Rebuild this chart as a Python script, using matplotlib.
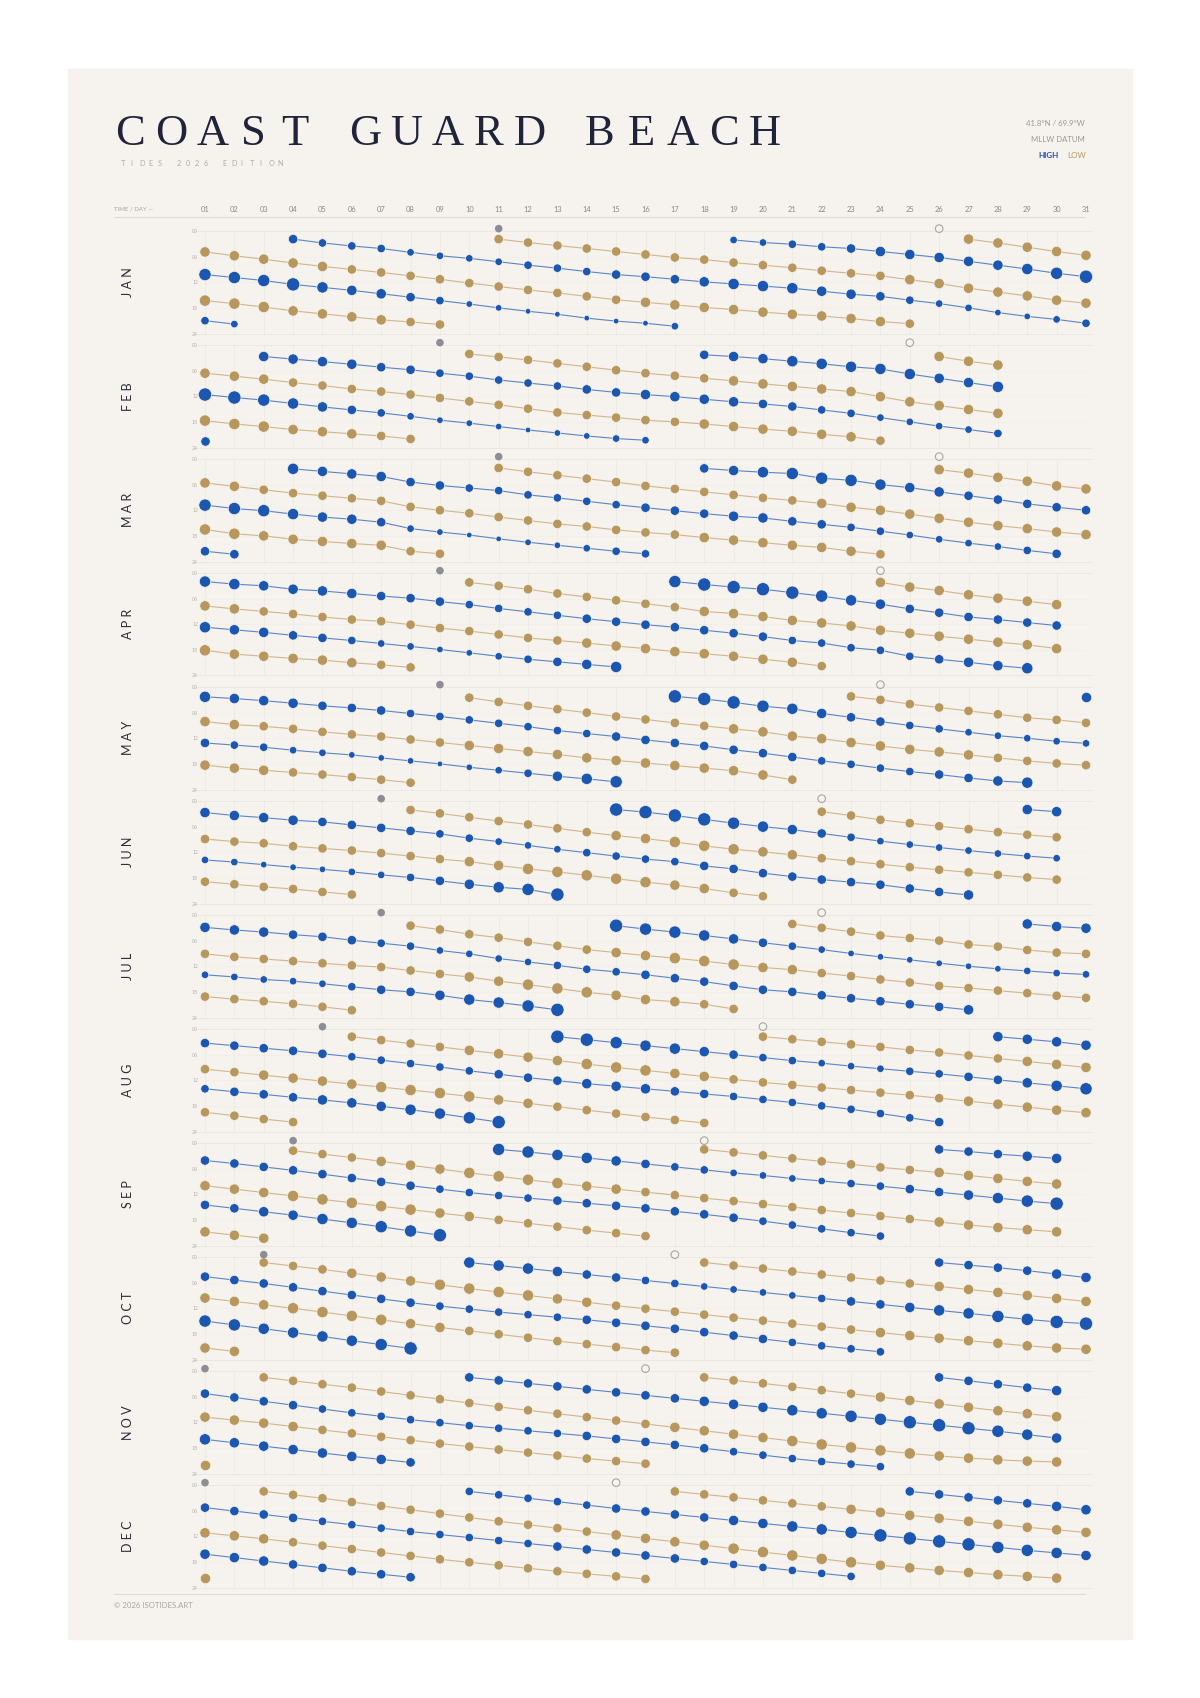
import matplotlib
matplotlib.use("Agg")
import matplotlib.pyplot as plt
from matplotlib.patches import Rectangle

# ── palette ──────────────────────────────────────────────
PAPER = "#f6f2ee"
BLUE = "#1b57b1"
GOLD = "#b8975c"
BLUE_LINE = "#5c84c6"
GOLD_LINE = "#cfb68c"
GRID = "#ece6df"
INK = "#20243a"
SANS = ["Lato", "DejaVu Sans"]

# ── data: (kind, first day, tide times in hours, size class per day 1-9) ──
MONTHS = ["JAN", "FEB", "MAR", "APR", "MAY", "JUN",
          "JUL", "AUG", "SEP", "OCT", "NOV", "DEC"]
DAYS_IN_MONTH = [31, 28, 31, 30, 31, 30, 31, 31, 30, 31, 30, 31]
NEW_MOON = [11, 9, 11, 9, 9, 7, 7, 5, 4, 3, 1, 1]
FULL_MOON = [26, 25, 26, 24, 24, 22, 22, 20, 18, 17, 16, 15]

JAN = [
    ("H", 1, [10.2, 10.9, 11.6, 12.5, 13.2, 13.9, 14.7, 15.5, 16.3, 17.1, 18.0, 18.8,
              19.5, 20.4, 21.1, 21.6, 22.3], "88897665422111113"),
    ("H", 1, [21.0, 21.8], "43"),
    ("H", 4, [1.9, 2.8, 3.5, 4.1, 5.0, 5.8, 6.4, 7.2, 8.0, 8.7, 9.5, 10.2, 10.7, 11.3,
              11.9, 12.4, 12.9, 13.4, 14.1, 14.8, 15.3, 16.2, 17.0, 18.0, 19.1, 20.0,
              20.7, 21.6], "5444333344455567776654332234"),
    ("H", 19, [2.1, 2.7, 3.1, 3.7, 4.1, 4.8, 5.5, 6.2, 7.1, 8.0, 8.9, 9.9, 10.7],
     "3344566666789"),
    ("L", 1, [4.9, 5.8, 6.6, 7.5, 8.3, 9.0, 9.7, 10.5, 11.3, 12.2, 13.0, 13.8, 14.5,
              15.3, 16.1, 16.7, 17.3, 17.9, 18.4, 19.0, 19.5, 19.9, 20.5, 21.2, 21.7],
     "6666655555555556666666665"),
    ("L", 1, [16.3, 17.0, 17.8, 18.7, 19.4, 20.1, 20.8, 21.3, 21.9], "777666655"),
    ("L", 11, [1.9, 2.7, 3.4, 4.1, 4.8, 5.5, 6.2, 6.7, 7.4, 8.0, 8.6, 9.3, 9.9, 10.5,
               11.4, 12.3, 13.4, 14.3, 15.2, 16.2, 16.9], "555555555555556666666"),
    ("L", 27, [1.9, 2.8, 3.8, 4.8, 5.7], "66666"),
]

FEB = [
    ("H", 1, [11.6, 12.3, 12.9, 13.7, 14.5, 15.2, 15.9, 16.7, 17.6, 18.3, 19.1, 19.9,
              20.6, 21.3, 21.9, 22.3], "9987654322212233"),
    ("H", 1, [22.5], "5"),
    ("H", 3, [2.7, 3.3, 3.9, 4.5, 5.2, 5.8, 6.6, 7.3, 8.2, 8.9, 9.6, 10.4, 11.1, 11.6,
              12.1, 12.7, 13.3, 13.8, 14.4, 15.2, 16.0, 17.0, 18.0, 19.0, 19.8, 20.7],
     "66665544444556666554433334"),
    ("H", 18, [2.3, 2.7, 3.2, 3.8, 4.4, 5.1, 5.6, 6.8, 7.8, 8.8, 9.8], "56677777667"),
    ("L", 1, [6.6, 7.3, 8.0, 8.8, 9.5, 10.3, 10.9, 11.6, 12.4, 13.2, 14.0, 14.9, 15.8,
              16.4, 17.0, 17.6, 18.0, 18.5, 19.1, 19.7, 20.2, 20.9, 21.5, 22.4],
     "666555555555555556666665"),
    ("L", 1, [17.7, 18.5, 19.1, 19.8, 20.3, 20.8, 21.3, 22.0], "77766655"),
    ("L", 10, [2.1, 2.8, 3.5, 4.3, 5.1, 5.9, 6.6, 7.2, 7.8, 8.4, 9.1, 9.7, 10.3, 10.9,
               12.1, 13.3, 14.2, 15.1, 16.0], "5555555556666666666"),
    ("L", 26, [2.7, 3.8, 4.7], "666"),
]

MAR = [
    ("H", 1, [10.8, 11.6, 12.1, 12.9, 13.6, 14.1, 14.8, 16.3, 17.1, 17.8, 18.7, 19.5,
              20.2, 20.9, 21.6, 22.2], "8887665321122344"),
    ("H", 1, [21.6, 22.3], "55"),
    ("H", 4, [2.3, 2.9, 3.5, 4.1, 5.4, 6.2, 6.8, 7.4, 8.4, 9.1, 9.9, 10.7, 11.4, 12.1,
              12.8, 13.4, 13.8, 14.6, 15.3, 16.0, 16.9, 17.8, 18.8, 19.7, 20.5, 21.4,
              22.2], "766655444444555665544333345"),
    ("H", 18, [2.2, 2.7, 3.1, 3.4, 4.5, 5.0, 6.0, 6.7, 7.7, 8.6, 9.5, 10.5, 11.3, 12.0],
     "56788876655555"),
    ("L", 1, [5.6, 6.4, 7.2, 8.0, 8.6, 9.2, 9.8, 11.2, 12.0, 12.7, 13.6, 14.4, 15.2,
              15.8, 16.6, 17.2, 17.7, 18.4, 19.0, 19.6, 20.2, 20.7, 21.6, 22.3],
     "665555555555555556666665"),
    ("L", 1, [16.5, 17.5, 18.0, 18.8, 19.3, 19.8, 20.2, 21.6, 22.2], "776666655"),
    ("L", 11, [2.1, 3.0, 3.8, 4.6, 5.4, 6.3, 7.0, 7.7, 8.4, 9.1, 9.7, 10.4, 11.3, 12.0,
               12.9, 13.9, 14.8, 15.6, 16.3, 17.1, 17.7], "555555555556666666666"),
    ("L", 26, [2.5, 3.3, 4.3, 5.2, 6.3, 7.0], "666666"),
]

APR = [
    ("H", 1, [12.7, 13.3, 13.9, 14.6, 15.2, 15.8, 16.5, 17.2, 17.9, 18.7, 19.5, 20.2,
              20.8, 21.4, 22.0], "766554332234567"),
    ("H", 1, [2.0, 2.6, 3.0, 3.8, 4.2, 4.8, 5.4, 5.9, 6.7, 7.4, 8.3, 9.1, 9.9, 10.7,
              11.4, 12.1, 12.7, 13.4, 14.1, 14.9, 15.8, 16.4, 17.5, 18.1, 19.5, 20.2,
              20.9, 21.7, 22.3], "77666655544445555555444445667"),
    ("H", 17, [2.0, 2.7, 3.3, 3.8, 4.6, 5.4, 6.4, 7.3, 8.4, 9.3, 10.3, 10.9, 11.6, 12.3],
     "89999876555555"),
    ("L", 1, [7.7, 8.4, 9.0, 9.6, 10.3, 10.9, 11.3, 12.1, 12.9, 13.6, 14.4, 15.2, 15.8,
              16.4, 17.1, 17.7, 18.4, 18.9, 19.5, 20.2, 20.9, 21.8],
     "6655555555555666666665"),
    ("L", 1, [18.1, 19.0, 19.5, 20.0, 20.4, 21.0, 21.5, 22.1], "76666655"),
    ("L", 10, [2.2, 3.0, 3.8, 4.8, 5.6, 6.4, 7.2, 8.0, 9.0, 9.5, 10.2, 11.1, 11.7, 12.4,
               13.4, 14.1, 14.8, 15.5, 16.2, 16.8, 17.7], "555555556666666666666"),
    ("L", 24, [2.2, 3.3, 4.1, 5.1, 5.9, 6.6, 7.4], "6666666"),
]

MAY = [
    ("H", 1, [2.3, 2.7, 3.2, 3.8, 4.4, 4.9, 5.5, 6.2, 6.9, 7.7, 8.5, 9.3, 10.2, 10.9,
              11.6, 12.4, 13.1, 13.8, 14.7, 15.5, 16.4, 17.3, 18.1, 19.0, 19.8, 20.5,
              21.3, 22.0, 22.4], "76665554444444555555544445567"),
    ("H", 1, [13.1, 13.6, 14.1, 14.8, 15.4, 15.9, 16.6, 17.3, 18.0, 18.8, 19.5, 20.2,
              20.9, 21.5, 22.2], "544332221234678"),
    ("H", 17, [2.2, 2.8, 3.6, 4.5, 5.1, 6.2, 7.1, 8.1, 9.0, 9.8, 10.6, 11.4, 12.0, 12.7,
               13.2], "999876554433333"),
    ("H", 31, [2.3], "6"),
    ("L", 1, [8.1, 8.8, 9.2, 9.8, 10.5, 11.1, 11.6, 12.3, 13.0, 13.7, 14.4, 15.1, 15.8,
              16.6, 17.2, 17.8, 18.4, 19.0, 19.6, 20.6, 21.7], "665555555666666666665"),
    ("L", 1, [18.3, 19.0, 19.5, 20.0, 20.5, 21.1, 21.7, 22.4], "66655555"),
    ("L", 10, [2.5, 3.5, 4.4, 5.2, 6.0, 6.9, 7.6, 8.4, 9.1, 9.8, 10.5, 11.5, 12.1, 13.0,
               13.8, 14.6, 15.2, 15.9, 16.6, 17.3, 17.9, 18.3], "5555555556666666665555"),
    ("L", 23, [2.2, 3.0, 4.0, 4.8, 5.6, 6.4, 7.2, 7.7, 8.4], "555555555"),
]

JUN = [
    ("H", 1, [2.7, 3.4, 3.9, 4.5, 4.9, 5.6, 6.3, 7.0, 7.7, 8.7, 9.5, 10.4, 11.3, 12.1,
              12.9, 13.6, 14.2, 15.2, 15.9, 16.9, 17.7, 18.4, 19.0, 19.6, 20.5, 21.3,
              22.0], "666655554433344445555555556"),
    ("H", 1, [13.8, 14.3, 14.9, 15.5, 16.0, 16.6, 17.3, 17.9, 18.7, 19.5, 20.2, 20.7,
              21.9], "3322233456789"),
    ("H", 15, [2.0, 2.6, 3.4, 4.3, 5.2, 6.0, 6.7, 7.6, 8.5, 9.4, 10.2, 10.9, 11.6, 12.3,
               12.9, 13.4], "9999876543333333"),
    ("H", 29, [2.0, 2.5], "66"),
    ("L", 1, [8.9, 9.5, 9.9, 10.6, 11.1, 11.6, 12.2, 12.9, 13.6, 14.2, 15.1, 15.9, 16.6,
              17.4, 18.2, 19.0, 19.7, 20.5, 21.5, 22.3], "55555555566777776655"),
    ("L", 1, [18.9, 19.5, 20.1, 20.6, 21.3, 21.9], "555555"),
    ("L", 8, [2.1, 2.9, 3.8, 4.7, 5.5, 6.4, 7.3, 8.1, 8.8, 9.6, 10.5, 11.3, 11.9, 12.6,
              13.4, 14.1, 14.8, 15.5, 16.1, 16.7, 17.3, 17.9, 18.4],
     "55555556677766555555555"),
    ("L", 22, [2.5, 3.4, 4.4, 5.2, 5.9, 6.6, 7.3, 7.9, 8.5], "555555555"),
]

JUL = [
    ("H", 1, [2.9, 3.5, 4.0, 4.6, 5.1, 5.9, 6.6, 7.3, 8.3, 9.1, 10.2, 11.0, 11.8, 12.7,
              13.3, 14.0, 14.8, 15.6, 16.6, 17.5, 18.0, 18.8, 19.5, 20.2, 20.9, 21.5,
              22.2], "666555443333444555555555556"),
    ("H", 1, [14.0, 14.5, 15.1, 15.5, 16.1, 16.8, 17.5, 18.0, 18.8, 19.8, 20.5, 21.3,
              22.2], "3333345567789"),
    ("H", 15, [2.5, 3.3, 4.0, 4.8, 5.6, 6.5, 7.3, 8.1, 9.0, 9.8, 10.5, 11.3, 12.0, 12.6,
               13.1, 13.6, 13.9], "98876543222222333"),
    ("H", 29, [2.1, 2.7, 3.1], "666"),
    ("L", 1, [9.1, 9.8, 10.3, 10.8, 11.3, 11.8, 12.2, 13.0, 13.8, 14.5, 15.5, 16.3, 17.2,
              18.1, 18.8, 19.8, 20.3, 20.9, 22.0], "5555555556677766655"),
    ("L", 1, [19.1, 19.7, 20.2, 20.8, 21.5, 22.3], "555555"),
    ("L", 8, [2.5, 3.4, 4.5, 5.3, 6.3, 7.2, 8.1, 8.8, 9.5, 10.1, 10.8, 11.6, 12.3, 12.8,
              13.6, 14.3, 15.1, 15.8, 16.6, 17.1, 17.7, 18.3, 18.9, 19.4],
     "555555566777665555555555"),
    ("L", 21, [2.1, 3.0, 3.9, 4.8, 5.4, 6.0, 6.9, 7.4, 8.2, 8.8, 9.1], "55555555555"),
]

AUG = [
    ("H", 1, [3.3, 3.9, 4.5, 5.1, 5.8, 6.5, 7.3, 8.1, 8.9, 9.8, 10.6, 11.4, 12.1, 12.8,
              13.4, 14.0, 14.6, 15.2, 15.8, 16.5, 17.2, 18.0, 18.8, 19.8, 20.8, 21.8],
     "55555444445556665544444445"),
    ("H", 1, [14.0, 14.7, 15.3, 16.0, 16.6, 17.3, 18.1, 18.9, 19.8, 20.8, 21.8],
     "45556667789"),
    ("H", 13, [1.8, 2.5, 3.2, 3.9, 4.6, 5.3, 6.0, 6.7, 7.4, 8.0, 8.7, 9.3, 9.9, 10.5,
               11.2, 11.9, 12.6, 13.3, 14.0], "9987765443334455678"),
    ("H", 28, [1.8, 2.4, 3.0, 3.8], "6666"),
    ("L", 1, [9.4, 10.1, 10.8, 11.5, 12.2, 12.9, 13.6, 14.3, 15.0, 15.8, 16.6, 17.4,
              18.2, 19.0, 19.8, 20.6, 21.3, 22.0], "556666777766555555"),
    ("L", 1, [19.5, 20.3, 21.1, 21.8], "5555"),
    ("L", 6, [1.8, 2.6, 3.4, 4.2, 5.0, 5.8, 6.6, 7.4, 8.2, 9.0, 9.7, 10.4, 11.1, 11.8,
              12.5, 13.1, 13.7, 14.3, 14.9, 15.5, 16.2, 16.9, 17.6, 18.3, 19.0, 19.6],
     "55556666777665555555566666"),
    ("L", 20, [1.8, 2.4, 3.0, 3.6, 4.2, 4.9, 5.5, 6.2, 6.9, 7.6, 8.3, 9.0], "555555555666"),
]

SEP = [
    ("H", 1, [4.1, 4.8, 5.6, 6.4, 7.3, 8.2, 9.1, 10.0, 10.8, 11.6, 12.3, 12.9, 13.5,
              14.1, 14.7, 15.3, 16.0, 16.7, 17.5, 18.3, 19.2, 20.1, 21.0, 21.8],
     "555555554444555555544444"),
    ("H", 1, [14.5, 15.3, 16.1, 16.9, 17.8, 18.7, 19.6, 20.6, 21.6], "556677889"),
    ("H", 11, [1.5, 2.1, 2.8, 3.5, 4.2, 4.9, 5.6, 6.3, 7.0, 7.6, 8.3, 8.9, 9.5, 10.1,
               10.8, 11.5, 12.2, 12.9, 13.6, 14.2], "88776544333344556789"),
    ("H", 26, [1.5, 2.0, 2.6, 3.1, 3.6], "55566"),
    ("L", 1, [10.0, 10.8, 11.6, 12.4, 13.2, 14.0, 14.8, 15.6, 16.4, 17.2, 18.0, 18.8,
              19.6, 20.4, 21.1, 21.8], "6667777766555555"),
    ("L", 1, [20.8, 21.6, 22.3], "666"),
    ("L", 4, [1.8, 2.6, 3.4, 4.3, 5.2, 6.1, 7.0, 7.8, 8.6, 9.4, 10.1, 10.8, 11.5, 12.2,
              12.9, 13.6, 14.3, 15.0, 15.7, 16.4, 17.1, 17.8, 18.5, 19.2, 19.8, 20.3,
              20.8], "555666777766555555555566666"),
    ("L", 18, [1.5, 2.2, 2.9, 3.6, 4.3, 5.0, 5.7, 6.3, 6.9, 7.6, 8.3, 9.0, 9.6],
     "5555555566666"),
]

OCT = [
    ("H", 1, [4.6, 5.4, 6.2, 7.1, 8.0, 8.9, 9.8, 10.7, 11.5, 12.2, 12.9, 13.5, 14.1,
              14.7, 15.4, 16.1, 16.8, 17.6, 18.4, 19.2, 20.0, 20.8, 21.5, 22.2],
     "555555554444455555554444"),
    ("H", 1, [15.0, 15.9, 16.8, 17.7, 18.6, 19.6, 20.5, 21.4], "88777789"),
    ("H", 10, [1.3, 2.0, 2.7, 3.4, 4.1, 4.8, 5.5, 6.2, 6.9, 7.6, 8.3, 9.0, 9.7, 10.4,
               11.1, 11.8, 12.5, 13.2, 13.9, 14.6, 15.2, 15.6], "7776554433334556778899"),
    ("H", 26, [1.3, 1.9, 2.5, 3.2, 4.0, 4.8], "555566"),
    ("L", 1, [9.6, 10.4, 11.2, 12.0, 12.9, 13.8, 14.7, 15.6, 16.5, 17.3, 18.1, 18.9,
              19.7, 20.4, 21.1, 21.8, 22.4], "66677776655555555"),
    ("L", 1, [21.3, 22.1], "66"),
    ("L", 3, [1.3, 2.1, 2.9, 3.8, 4.7, 5.6, 6.5, 7.4, 8.2, 9.0, 9.8, 10.6, 11.4, 12.1,
              12.8, 13.5, 14.2, 14.9, 15.6, 16.3, 17.0, 17.7, 18.4, 19.0, 19.6, 20.2,
              20.8, 21.3, 21.6], "55566677776655555555566666666"),
    ("L", 18, [1.3, 2.0, 2.7, 3.4, 4.1, 4.8, 5.5, 6.2, 6.9, 7.6, 8.3, 9.0, 9.7, 10.4],
     "55555555666666"),
]

NOV = [
    ("H", 1, [5.3, 6.2, 7.1, 8.0, 8.9, 9.8, 10.6, 11.4, 12.1, 12.8, 13.4, 14.0, 14.6,
              15.2, 15.9, 16.6, 17.3, 18.1, 18.9, 19.7, 20.5, 21.2, 21.8, 22.4],
     "555544444444455555444444"),
    ("H", 1, [16.0, 16.8, 17.6, 18.4, 19.2, 20.0, 20.7, 21.4], "76666665"),
    ("H", 10, [1.5, 2.2, 2.9, 3.6, 4.3, 5.0, 5.7, 6.4, 7.1, 7.8, 8.5, 9.2, 9.9, 10.6,
               11.3, 12.0, 12.7, 13.4, 14.1, 14.9, 15.7], "555555556667788999876"),
    ("H", 26, [1.5, 2.3, 3.1, 3.9, 4.6], "55556"),
    ("L", 1, [10.8, 11.5, 12.2, 13.0, 13.8, 14.6, 15.4, 16.2, 17.0, 17.7, 18.4, 19.1,
              19.8, 20.5, 21.1, 21.7], "6666555555555555"),
    ("L", 1, [22.0], "6"),
    ("L", 3, [1.5, 2.3, 3.1, 3.9, 4.8, 5.7, 6.6, 7.5, 8.4, 9.2, 10.0, 10.8, 11.6, 12.4,
              13.2, 14.0, 14.8, 15.6, 16.4, 17.2, 17.9, 18.6, 19.3, 19.9, 20.4, 20.8,
              21.1, 21.3], "5555555555555566667777766666"),
    ("L", 18, [1.5, 2.2, 2.9, 3.7, 4.5, 5.3, 6.1, 6.9, 7.7, 8.5, 9.3, 10.0, 10.7],
     "5555556666666"),
]

DEC = [
    ("H", 1, [5.3, 6.1, 6.9, 7.7, 8.5, 9.3, 10.1, 10.9, 11.6, 12.3, 13.0, 13.7, 14.4,
              15.1, 15.8, 16.5, 17.2, 17.9, 18.6, 19.3, 20.0, 20.7, 21.4],
     "55554444444455555444444"),
    ("H", 1, [16.2, 17.0, 17.8, 18.6, 19.4, 20.2, 20.9, 21.6], "66655555"),
    ("H", 10, [1.5, 2.3, 3.1, 3.9, 4.7, 5.5, 6.2, 6.9, 7.6, 8.3, 9.0, 9.7, 10.4, 11.1,
               11.8, 12.5, 13.2, 13.9, 14.6, 15.3, 15.9, 16.5], "4444455556677899998876"),
    ("H", 25, [1.5, 2.2, 2.9, 3.6, 4.3, 5.0, 5.8], "5555566"),
    ("L", 1, [11.2, 11.9, 12.6, 13.4, 14.2, 15.0, 15.8, 16.6, 17.4, 18.1, 18.8, 19.5,
              20.2, 20.8, 21.4, 22.0], "6665555555555555"),
    ("L", 1, [21.8], "6"),
    ("L", 3, [1.5, 2.3, 3.1, 4.0, 4.9, 5.8, 6.7, 7.6, 8.5, 9.3, 10.1, 10.9, 11.7, 12.5,
              13.3, 14.1, 14.9, 15.7, 16.5, 17.3, 18.1, 18.8, 19.4, 20.0, 20.5, 21.0,
              21.4, 21.8], "5555555555556666777776666666"),
    ("L", 17, [1.5, 2.2, 2.9, 3.6, 4.3, 5.0, 5.7, 6.4, 7.1, 7.8, 8.5, 9.2, 9.9, 10.5,
               11.1], "555555666666666"),
]

CHAINS = [JAN, FEB, MAR, APR, MAY, JUN, JUL, AUG, SEP, OCT, NOV, DEC]

# ── layout (pixels of the 1200 x 1698 canvas) ───────────────
W, H = 1200, 1698
X_DAY1, X_DAY31 = 205.0, 1086.0
PANEL_TOP0, PANEL_STEP, PANEL_H = 231.0, 114.0, 102.5
DAY_PX = (X_DAY31 - X_DAY1) / 30.0


def marker_area(cls):
    r_px = 2.3 + 0.48 * int(cls)
    d_pt = 2 * r_px * 0.72
    return d_pt ** 2


fig = plt.figure(figsize=(W / 100, H / 100), dpi=100)
fig.patch.set_facecolor("white")

bg = fig.add_axes([0, 0, 1, 1], zorder=0)
bg.set_xlim(0, W)
bg.set_ylim(H, 0)
bg.axis("off")
bg.add_patch(Rectangle((68, 69), 1064, 1570, color=PAPER, zorder=0))

# title, letter by letter for the wide tracking
title = "COAST GUARD BEACH"
x = 130.0
for ch in title:
    if ch == " ":
        x += 29.0
        continue
    bg.text(x, 134, ch, fontsize=32, family=["Liberation Serif", "DejaVu Serif"],
            color=INK, ha="center", va="center")
    x += 41.2

sub = "TIDES 2026 EDITION"
for i, ch in enumerate(sub):
    bg.text(121 + i * 9.2, 163, ch, fontsize=5.3, family=SANS, color="#b3aca5",
            ha="left", va="center")

bg.text(1085, 123, "41.8°N / 69.9°W", fontsize=5.6, family=SANS, color="#9d978f",
        ha="right", va="center")
bg.text(1085, 139, "MLLW DATUM", fontsize=5.6, family=SANS, color="#9d978f",
        ha="right", va="center")
bg.text(1059, 155, "HIGH", fontsize=5.8, family=SANS, color=BLUE,
        ha="right", va="center", fontweight="bold")
bg.text(1086, 155, "LOW", fontsize=5.8, family=SANS, color=GOLD,
        ha="right", va="center")

# header row
bg.text(114, 209, "TIME / DAY —", fontsize=4.4, family=SANS, color="#aaa49c",
        ha="left", va="center")
for d in range(1, 32):
    bg.text(X_DAY1 + (d - 1) * DAY_PX, 209, f"{d:02d}", fontsize=5.4, family=SANS,
            color="#8f8983", ha="center", va="center")
bg.plot([114, 1085], [217, 217], color="#e2dcd4", lw=0.8)

# footer
bg.plot([114, 1085], [1594, 1594], color="#e2dcd4", lw=0.8)
bg.text(114, 1606, "© 2026 ISOTIDES.ART", fontsize=5.6, family=SANS, color="#aaa49c",
        ha="left", va="center")

# month panels
for m, name in enumerate(MONTHS):
    top = PANEL_TOP0 + m * PANEL_STEP
    ax = fig.add_axes([X_DAY1 / W, 1 - (top + PANEL_H) / H,
                       (X_DAY31 - X_DAY1) / W, PANEL_H / H], zorder=2)
    ax.set_facecolor("none")
    ax.set_xlim(1, 31)
    ax.set_ylim(24, 0)
    for s in ax.spines.values():
        s.set_visible(False)
    ax.set_xticks([])
    ax.set_yticks([0, 6, 12, 18, 24])
    ax.set_yticklabels(["00", "06", "12", "18", "24"])
    ax.tick_params(axis="y", length=0, pad=5, labelsize=3.4, labelcolor="#b9b2ab")

    ndays = DAYS_IN_MONTH[m]
    for d in range(1, ndays + 1):
        ax.plot([d, d], [0, 24], color=GRID, lw=0.45, zorder=0)
    for hh in (0, 24):
        ax.plot([0.6, 31.2], [hh, hh], color=GRID, lw=0.6, zorder=0, clip_on=False)
    for hh in (6, 12, 18):
        ax.plot([1, 31], [hh, hh], color="#f0ebe5", lw=0.4, zorder=0)

    for kind, start, times, sizes in CHAINS[m]:
        days = [start + i for i in range(len(times))]
        areas = [marker_area(sizes[min(i, len(sizes) - 1)]) for i in range(len(times))]
        col = BLUE if kind == "H" else GOLD
        lcol = BLUE_LINE if kind == "H" else GOLD_LINE
        ax.plot(days, times, color=lcol, lw=0.8, zorder=2, solid_capstyle="round")
        ax.scatter(days, times, s=areas, c=col, edgecolors=PAPER, linewidths=0.5,
                   zorder=3, clip_on=False)

    moon_s = (2 * 3.8 * 0.72) ** 2
    ax.scatter([NEW_MOON[m]], [-0.55], s=moon_s, c="#8d8d97", edgecolors="none",
               zorder=4, clip_on=False)
    ax.scatter([FULL_MOON[m]], [-0.55], s=moon_s, facecolors="none",
               edgecolors="#a9a6a3", linewidths=0.8, zorder=4, clip_on=False)

    bg.text(128, top + PANEL_H / 2, " ".join(name), rotation=90, fontsize=9,
            family=SANS, color="#2a2d3a", ha="center", va="center")

fig.savefig("out.png", dpi=100, facecolor="white")
